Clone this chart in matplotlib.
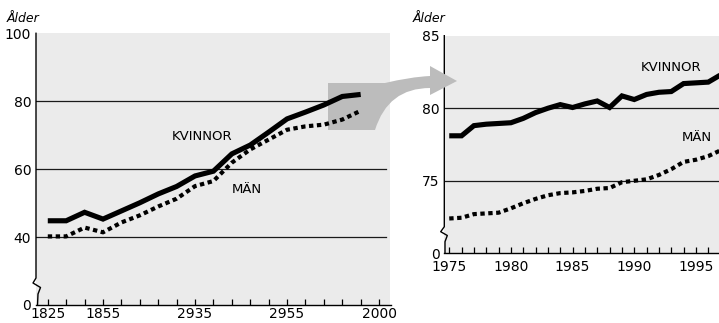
import matplotlib
matplotlib.use('Agg')
import matplotlib.pyplot as plt
from matplotlib.path import Path
from matplotlib.patches import PathPatch

plt.rcParams['font.family'] = ['DejaVu Sans']

W, H = 719, 323

# long series, one value per decade
years_long = [1825, 1835, 1845, 1855, 1865, 1875, 1885, 1895, 1905,
              1915, 1925, 1935, 1945, 1955, 1965, 1975, 1985, 1995]
women_long = [44.8, 44.8, 47.3, 45.3, 47.7, 50.1, 52.7, 54.9, 58.0,
              59.4, 64.5, 67.1, 70.9, 74.8, 76.8, 78.9, 81.4, 82.0]
men_long = [40.2, 40.2, 42.8, 41.4, 44.3, 46.4, 49.0, 51.3, 55.0,
            56.5, 61.9, 65.8, 68.7, 71.6, 72.6, 73.1, 74.6, 77.2]

long_ticks = list(range(1825, 2006, 10))
long_labels = {1825: '1825', 1855: '1855', 1905: '2935', 1955: '2955', 2005: '2000'}

# short series, one value per year
years_short = list(range(1975, 1998))
women_short = [78.1, 78.1, 78.8, 78.9, 78.95, 79.0, 79.3, 79.7, 80.0, 80.25,
               80.05, 80.3, 80.5, 80.05, 80.85, 80.6, 80.95, 81.1, 81.15, 81.7,
               81.75, 81.8, 82.3]
men_short = [72.4, 72.45, 72.7, 72.75, 72.8, 73.1, 73.45, 73.75, 74.0, 74.15,
             74.2, 74.3, 74.45, 74.5, 74.9, 75.0, 75.1, 75.4, 75.8, 76.3,
             76.45, 76.7, 77.1]

short_ticks = list(range(1975, 1997))

PANEL = '#ebebeb'
HILITE = '#bcbcbc'


def fig_xy(x, y):
    # pixel position (y down) -> figure fraction
    return (x / W, 1 - y / H)


fig = plt.figure(figsize=(W / 100, H / 100), dpi=100)
ax1 = fig.add_axes([36 / W, 1 - 305 / H, 354.5 / W, 271.7 / H])
ax2 = fig.add_axes([444.3 / W, 1 - 253.3 / H, (W - 444.3) / W, 217.6 / H])
ax1.set_zorder(2)
ax2.set_zorder(1)

solid = dict(color='black', lw=3.7, solid_joinstyle='miter', solid_capstyle='butt', zorder=3)
dotted = dict(color='black', lw=3.0, linestyle=(0, (1.05, 0.85)), dash_capstyle='butt', zorder=3)

# left panel
ax1.set_facecolor(PANEL)
ax1.set_xlim(1818.6, 2011.2)
ax1.set_ylim(20, 100)
for v in [40, 60, 80]:
    ax1.axhline(v, xmax=0.988, color='#1a1a1a', lw=0.9, zorder=1)
ax1.plot(years_long, women_long, **solid)
ax1.plot(years_long, men_long, **dotted)
ax1.text(1908.6, 69.7, 'KVINNOR', fontsize=9.5, ha='center', va='center')
ax1.text(1933.1, 54.0, 'MÄN', fontsize=9.5, ha='center', va='center')
ax1.set_xticks(long_ticks)
ax1.set_xticklabels([long_labels.get(t, '') for t in long_ticks])
ax1.set_yticks([20, 40, 60, 80, 100])
ax1.set_yticklabels(['0', '40', '60', '80', '100'])

# right panel
ax2.set_facecolor(PANEL)
ax2.set_xlim(1974.6, 1996.87)
ax2.set_ylim(70, 85)
for v in [75, 80]:
    ax2.axhline(v, color='#1a1a1a', lw=0.9, zorder=1)
ax2.plot(years_short, women_short, **solid)
ax2.plot(years_short, men_short, **dotted)
ax2.text(1993.0, 82.83, 'KVINNOR', fontsize=9.5, ha='center', va='center')
ax2.text(1995.06, 78.0, 'MÄN', fontsize=9.5, ha='center', va='center')
ax2.set_xticks(short_ticks)
ax2.set_xticklabels([str(t) if t % 5 == 0 else '' for t in short_ticks])
ax2.set_yticks([70, 75, 80, 85])
ax2.set_yticklabels(['0', '75', '80', '85'])

for ax in (ax1, ax2):
    for s in ['top', 'right', 'left']:
        ax.spines[s].set_visible(False)
    ax.spines['bottom'].set_linewidth(1.0)
    ax.tick_params(axis='x', direction='in', length=4, width=0.9, labelsize=10)
    ax.tick_params(axis='y', length=0, pad=3.5, labelsize=10)
ax1.tick_params(axis='x', pad=1.5)
ax2.tick_params(axis='x', pad=4.5)

# left axis lines with break marks
brk1 = [(36, 33.3), (36, 278), (33, 283), (40.5, 287.5), (38, 294), (37.5, 305)]
brk2 = [(444.3, 35.7), (444.3, 226.7), (440.7, 231.7), (447.3, 235.5), (445, 241.7), (445, 253.3)]
for pts, ax in ((brk1, ax1), (brk2, ax2)):
    xy = [fig_xy(x, y) for x, y in pts]
    ax.plot([p[0] for p in xy], [p[1] for p in xy], color='black', lw=1.0,
            transform=fig.transFigure, clip_on=False, zorder=4)

# zoom highlight and arrow
arrow_px = [(328, 83), (385, 83), (410, 77), (430, 76), (430, 66), (457, 81),
            (430, 95), (430, 88), (388, 88), (375, 130), (328, 130), (328, 83)]
codes = [Path.MOVETO, Path.LINETO, Path.CURVE3, Path.CURVE3, Path.LINETO, Path.LINETO,
         Path.LINETO, Path.LINETO, Path.CURVE3, Path.CURVE3, Path.LINETO, Path.CLOSEPOLY]
arrow = PathPatch(Path([fig_xy(x, y) for x, y in arrow_px], codes), facecolor=HILITE,
                  edgecolor='none', transform=fig.transFigure, clip_on=False, zorder=2)
ax1.add_patch(arrow)

fig.text(7 / W, 1 - 19 / H, 'Ålder', fontsize=9, style='italic', ha='left', va='center')
fig.text(413 / W, 1 - 19 / H, 'Ålder', fontsize=9, style='italic', ha='left', va='center')

fig.savefig('out.png', dpi=100)
